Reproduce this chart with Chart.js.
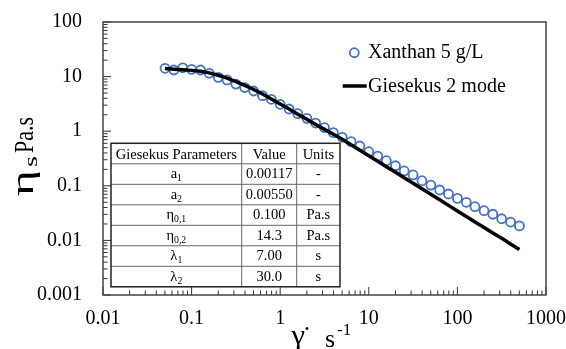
<!DOCTYPE html>
<html>
<head>
<meta charset="utf-8">
<script src="https://cdn.jsdelivr.net/npm/chart.js@4.4.0/dist/chart.umd.min.js"></script>
<style>
  html, body { margin: 0; padding: 0; background: #fff; }
  #wrap { width: 566px; height: 349px; }
</style>
</head>
<body>
<div id="wrap"><canvas id="viscChart" width="566" height="349"></canvas></div>
<script>
// shear rate (1/s) and viscosity (Pa.s)
const shearRate = [0.0501, 0.0631, 0.0794, 0.1, 0.126, 0.158, 0.2, 0.251, 0.316, 0.398,
  0.501, 0.631, 0.794, 1, 1.26, 1.58, 2, 2.51, 3.16, 3.98,
  5.01, 6.31, 7.94, 10, 12.6, 15.8, 20, 25.1, 31.6, 39.8,
  50.1, 63.1, 79.4, 100, 126, 158, 200, 251, 316, 398, 501];
const xanthanVisc = [14.2, 13.2, 14.5, 13.6, 13.2, 11.5, 9.7, 8.7, 7.3, 6.3,
  5.45, 4.47, 3.84, 3.11, 2.55, 2.09, 1.72, 1.41, 1.16, 0.94,
  0.773, 0.643, 0.536, 0.421, 0.351, 0.288, 0.233, 0.187, 0.158, 0.124,
  0.103, 0.0838, 0.0708, 0.059, 0.0499, 0.0414, 0.035, 0.0301, 0.0249, 0.0217, 0.0184];
const giesekusVisc = [14.0, 13.7, 13.4, 13.0, 12.5, 11.7, 10.6, 9.4, 8.1, 6.9,
  5.8, 4.8, 3.9, 3.15, 2.55, 2.05, 1.65, 1.33, 1.08, 0.88,
  0.715, 0.567, 0.449, 0.356, 0.282, 0.224, 0.177, 0.140, 0.111, 0.088,
  0.0698, 0.0553, 0.0438, 0.0347, 0.0275, 0.0218, 0.0173, 0.0137, 0.0109, 0.0086, 0.0068];

const xTicks = [0.01, 0.1, 1, 10, 100, 1000];
const xTickLabels = ['0.01', '0.1', '1', '10', '100', '1000'];
const yTicks = [0.001, 0.01, 0.1, 1, 10, 100];
const yTickLabels = ['0.001', '0.01', '0.1', '1', '10', '100'];
const seriesNames = ['Xanthan 5 g/L', 'Giesekus 2 mode'];

const tableHeader = ['Giesekus Parameters', 'Value', 'Units'];
const paramSymbols = [['a', '1'], ['a', '2'], ['η', '0,1'], ['η', '0,2'], ['λ', '1'], ['λ', '2']];
const paramValues = ['0.00117', '0.00550', '0.100', '14.3', '7.00', '30.0'];
const paramUnits = ['-', '-', 'Pa.s', 'Pa.s', 's', 's'];

const SERIF = '"Liberation Serif", "Times New Roman", serif';
const BLUE = '#4472C4';

function drawLogTicks(ctx, scale, horizontal, area) {
  const lo = Math.floor(Math.log10(scale.min));
  const hi = Math.ceil(Math.log10(scale.max));
  for (let e = lo; e <= hi; e++) {
    for (let k = 1; k <= 9; k++) {
      const v = k * Math.pow(10, e);
      if (v < scale.min * 0.999 || v > scale.max * 1.001) continue;
      const p = scale.getPixelForValue(v);
      const len = k === 1 ? 8 : 4.5;
      ctx.beginPath();
      if (horizontal) {
        ctx.moveTo(p, area.bottom);
        ctx.lineTo(p, area.bottom - len);
      } else {
        ctx.moveTo(area.left, p);
        ctx.lineTo(area.left + len, p);
      }
      ctx.stroke();
    }
  }
}

// text with a subscript, centred on cx
function drawSub(ctx, main, sub, cx, base, size) {
  ctx.font = size + 'px ' + SERIF;
  const w1 = ctx.measureText(main).width;
  ctx.font = (size * 0.68) + 'px ' + SERIF;
  const w2 = ctx.measureText(sub).width;
  const x0 = cx - (w1 + w2) / 2;
  ctx.textAlign = 'left';
  ctx.font = size + 'px ' + SERIF;
  ctx.fillText(main, x0, base);
  ctx.font = (size * 0.68) + 'px ' + SERIF;
  ctx.fillText(sub, x0 + w1, base + 3);
}

// fit text into a given width by stretching
function fitText(ctx, text, x, y, width) {
  const w = ctx.measureText(text).width;
  ctx.save();
  ctx.translate(x, y);
  ctx.scale(width / w, 1);
  ctx.fillText(text, 0, 0);
  ctx.restore();
}

const decorations = {
  id: 'decorations',
  beforeDatasetsDraw(chart) {
    const ctx = chart.ctx, a = chart.chartArea;
    ctx.save();
    ctx.strokeStyle = '#333';
    ctx.lineWidth = 1;
    drawLogTicks(ctx, chart.scales.x, true, a);
    drawLogTicks(ctx, chart.scales.y, false, a);
    ctx.lineWidth = 1.5;
    ctx.strokeStyle = '#444';
    ctx.strokeRect(a.left, a.top, a.right - a.left, a.bottom - a.top);
    ctx.restore();
  },
  afterDraw(chart) {
    const ctx = chart.ctx;
    const ds = chart.data.datasets;
    ctx.save();
    ctx.fillStyle = '#000';
    ctx.textBaseline = 'alphabetic';

    // legend
    ctx.beginPath();
    ctx.arc(354.3, 52.7, 4.5, 0, Math.PI * 2);
    ctx.fillStyle = '#fff';
    ctx.fill();
    ctx.lineWidth = ds[0].borderWidth;
    ctx.strokeStyle = ds[0].borderColor;
    ctx.stroke();
    ctx.beginPath();
    ctx.moveTo(342.7, 86);
    ctx.lineTo(366.7, 86);
    ctx.lineWidth = ds[1].borderWidth;
    ctx.strokeStyle = ds[1].borderColor;
    ctx.stroke();
    ctx.fillStyle = '#000';
    ctx.font = '20px ' + SERIF;
    ctx.textAlign = 'left';
    ctx.fillText(seriesNames[0], 368, 58.3);
    ctx.fillText(seriesNames[1], 368, 92.3);

    // parameter table
    const cols = [111, 241.7, 296.7, 340];
    const top = 143.3, rh = 20.5;
    const nRows = paramValues.length + 1;
    const bottom = top + rh * nRows;
    ctx.fillStyle = '#fff';
    ctx.fillRect(cols[0], top, cols[3] - cols[0], bottom - top);
    ctx.strokeStyle = '#666';
    ctx.lineWidth = 1;
    ctx.beginPath();
    for (let r = 1; r < nRows; r++) {
      ctx.moveTo(cols[0], top + rh * r);
      ctx.lineTo(cols[3], top + rh * r);
    }
    for (let c = 1; c < 3; c++) {
      ctx.moveTo(cols[c], top);
      ctx.lineTo(cols[c], bottom);
    }
    ctx.stroke();
    ctx.strokeStyle = '#222';
    ctx.lineWidth = 1.5;
    ctx.strokeRect(cols[0], top, cols[3] - cols[0], bottom - top);

    ctx.fillStyle = '#000';
    ctx.textAlign = 'center';
    ctx.font = '14.5px ' + SERIF;
    for (let c = 0; c < 3; c++) {
      ctx.fillText(tableHeader[c], (cols[c] + cols[c + 1]) / 2, top + rh / 2 + 5);
    }
    for (let r = 0; r < paramValues.length; r++) {
      const base = top + rh * (r + 1) + rh / 2 + 4;
      drawSub(ctx, paramSymbols[r][0], paramSymbols[r][1], (cols[0] + cols[1]) / 2, base, 14.5);
      ctx.textAlign = 'center';
      ctx.font = '14.5px ' + SERIF;
      ctx.fillText(paramValues[r], (cols[1] + cols[2]) / 2, base);
      ctx.fillText(paramUnits[r], (cols[2] + cols[3]) / 2, base);
    }

    // y axis title: eta_s Pa.s (rotated)
    ctx.save();
    ctx.translate(33, 197);
    ctx.rotate(-Math.PI / 2);
    ctx.textAlign = 'left';
    ctx.font = '31px ' + SERIF;
    fitText(ctx, 'η', 1, 0, 26);
    ctx.font = '18px ' + SERIF;
    fitText(ctx, 's', 30, 4, 11);
    ctx.font = '27px ' + SERIF;
    fitText(ctx, 'Pa.s', 44, 0, 36);
    ctx.restore();

    // x axis title: gamma-dot s^-1
    ctx.textAlign = 'left';
    ctx.font = '28px ' + SERIF;
    fitText(ctx, 'γ', 291.5, 344, 13.5);
    ctx.textAlign = 'center';
    ctx.fillText('˙', 307, 344.6);
    ctx.textAlign = 'left';
    ctx.font = '26px ' + SERIF;
    ctx.fillText('s', 325, 347);
    ctx.font = '17px ' + SERIF;
    ctx.fillText('-1', 337, 335);
    ctx.restore();
  }
};

const ctx = document.getElementById('viscChart').getContext('2d');
new Chart(ctx, {
  type: 'scatter',
  data: {
    datasets: [{
      label: seriesNames[0],
      data: shearRate.map((x, i) => ({ x: x, y: xanthanVisc[i] })),
      order: 2,
      showLine: false,
      pointStyle: 'circle',
      pointRadius: 4.5,
      pointHoverRadius: 4.5,
      borderWidth: 1.8,
      borderColor: BLUE,
      backgroundColor: '#fff'
    }, {
      label: seriesNames[1],
      data: shearRate.map((x, i) => ({ x: x, y: giesekusVisc[i] })),
      order: 1,
      showLine: true,
      pointRadius: 0,
      borderWidth: 3.5,
      borderColor: '#000',
      backgroundColor: '#000',
      tension: 0
    }]
  },
  options: {
    responsive: false,
    animation: false,
    devicePixelRatio: 1,
    layout: { padding: { top: 22, right: 20, left: 0, bottom: 0 } },
    plugins: {
      legend: { display: false },
      tooltip: { enabled: false }
    },
    scales: {
      x: {
        type: 'logarithmic',
        min: 0.01,
        max: 1000,
        afterBuildTicks: s => { s.ticks = xTicks.map(v => ({ value: v })); },
        afterFit: s => { s.height = 54; },
        grid: { display: false, drawTicks: true, tickLength: 12 },
        border: { display: false },
        ticks: {
          autoSkip: false,
          maxRotation: 0,
          padding: 0,
          color: '#000',
          font: { family: SERIF, size: 20 },
          callback: (v) => xTickLabels[xTicks.indexOf(v)]
        }
      },
      y: {
        type: 'logarithmic',
        min: 0.001,
        max: 100,
        afterBuildTicks: s => { s.ticks = yTicks.map(v => ({ value: v })); },
        afterFit: s => { s.width = 103; },
        grid: { display: false, drawTicks: true, tickLength: 21 },
        border: { display: false },
        ticks: {
          autoSkip: false,
          padding: 0,
          color: '#000',
          font: { family: SERIF, size: 20 },
          callback: (v) => yTickLabels[yTicks.indexOf(v)]
        }
      }
    }
  },
  plugins: [decorations]
});
</script>
</body>
</html>
